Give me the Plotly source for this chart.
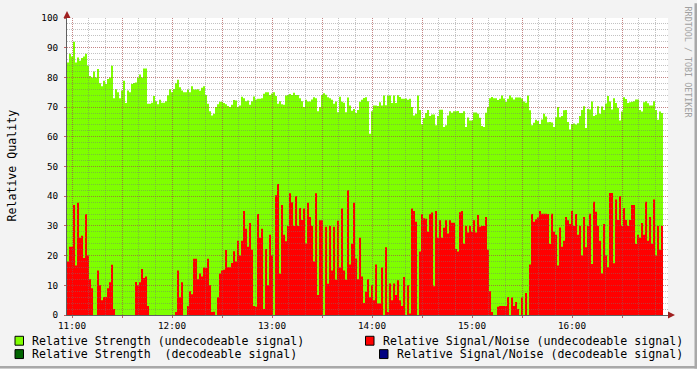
import pandas as pd
import plotly.graph_objects as go

# Relative Strength (undecodeable signal) - one value per 72 s sample
strength = [
    85, 88, 87, 92, 85, 86.7, 85.6, 86.5, 87, 88,
    84, 80.5, 80, 82, 80, 82.8, 78, 77, 78.9, 77.8,
    79.5, 80, 83.9, 73, 76, 75, 73, 75.6, 78.9, 71.4,
    75.6, 75, 77.8, 78.1, 78.3, 80, 81, 80, 83, 83,
    71.1, 71.1, 71.5, 73.7, 72, 71, 72.5, 71.5, 71.5, 72,
    74, 76, 75, 76.1, 78, 79.2, 76.7, 75.6, 75, 75,
    75.9, 75, 77, 75.9, 75.9, 76, 75.5, 76.5, 77, 74.1,
    71.1, 68.6, 67.2, 67.8, 70, 71, 71.8, 71.8, 71.4, 71,
    70.4, 70, 70.8, 72.4, 72.2, 70, 70.5, 73.5, 73, 72,
    72.2, 70.8, 72, 73.6, 72.6, 72.8, 72.8, 73, 74.5, 75,
    75, 74.1, 74.6, 75, 73.7, 71.1, 72, 71, 70.8, 73.9,
    74.1, 74.4, 74.1, 74.8, 74.1, 74.1, 73, 72, 70, 72.5,
    71.9, 71.9, 72.6, 73.3, 73, 68.6, 70, 74.1, 74.7, 74.2,
    73.3, 73, 72.5, 71.1, 71.9, 68.3, 73.5, 71.8, 71.5, 68.3,
    73.2, 70.5, 68.8, 69.4, 68, 69, 71.8, 72.5, 73.1, 73.3,
    72, 61, 68.6, 70.5, 70.5, 70.4, 71.6, 70.5, 73.9, 70.6,
    73.9, 73.9, 71.4, 73.9, 71.4, 74, 73.4, 72.8, 72.8, 72.9,
    72.5, 72.8, 70, 67.2, 67.8, 73.9, 69, 64.2, 66.3, 68,
    69, 67, 67.5, 67.5, 63.9, 67, 69.1, 69.1, 63.3, 63.9,
    67.2, 68.6, 68.1, 68.6, 68.6, 68.7, 68, 68, 68.6, 63.3,
    66.5, 65.5, 65.5, 68.2, 68.2, 67.8, 66.4, 63.6, 63.3, 68.1,
    70, 73, 73.4, 73, 73, 72.4, 72.8, 73.9, 72.9, 71.8,
    72.8, 73.9, 73.2, 72.6, 73.2, 73.2, 73.2, 72.9, 71.9, 71.5,
    73.9, 68.9, 63.9, 64.7, 65.7, 65.3, 64.3, 65.8, 67.8, 66.8,
    64.9, 65, 64.8, 63.3, 66.6, 70, 66.6, 67, 68.9, 69,
    65, 62.5, 64.3, 64.5, 64.1, 64.6, 67, 69, 70.3, 63,
    69.4, 69.2, 71.9, 67, 67.4, 70.3, 67.8, 70.2, 69, 71.2,
    73.7, 71.9, 69.2, 73, 71.4, 69.7, 65.5, 68.5, 73.3, 72.7,
    71.4, 71.6, 71.8, 72, 72.6, 72.6, 69, 68.5, 71.6, 72,
    71.3, 70.5, 70.5, 72, 69, 65.7, 68.5, 68,
]

# Relative Signal/Noise (undecodeable signal)
snr = [
    18, 23, 23, 37, 16.7, 37.8, 26, 26.7, 19.2, 33.9,
    20, 12, 9, 0, 0, 15, 10, 5, 6.1, 6.1,
    9, 11, 16.9, 2, 0, 0, 0, 0, 0, 0,
    0, 0, 0, 0, 11.1, 10, 11, 15.5, 12.5, 13,
    3, 0, 0, 0, 0, 0, 0, 0, 0, 0,
    0, 0, 0, 0, 1, 15, 6, 11, 0, 0,
    3, 8, 7, 18.9, 18.9, 12, 14, 13, 16, 15.9,
    18.9, 10, 1, 1.1, 0, 6, 14, 15, 15.2, 21.9,
    16.1, 16.1, 17.5, 21.5, 18, 25, 20, 25, 35, 29,
    23, 31, 22, 3, 2.8, 34, 26, 29, 2, 22.2,
    10, 27, 20, 0, 40.3, 44.1, 13.9, 37, 27, 24.8,
    30, 41, 38, 30, 40, 30, 36, 32, 35.9, 24.1,
    37.8, 33, 30, 18, 41, 6.7, 31.9, 31.9, 0, 29.7,
    10.5, 30, 15, 29.7, 11.9, 31.7, 16, 35.9, 15, 11.9,
    42, 17, 24, 37.8, 19, 12, 26, 13, 4, 7.8,
    12, 6, 10, 5, 17, 3.9, 3.9, 16, 0, 22.8,
    1, 10.6, 5, 10.6, 6.7, 11.7, 5, 3, 12.8, 0,
    10, 0.5, 35.9, 35, 31.4, 0, 21.4, 34, 32.6, 32.4,
    28, 34, 34.5, 9.7, 35, 26, 31.9, 26, 29.4, 31.9,
    27.4, 31.9, 31.1, 31.1, 22.2, 21.4, 34.6, 35, 24, 30,
    27.8, 30, 28, 31.9, 27.8, 33.7, 29.7, 30, 30, 33,
    22, 8, 1, 0, 0, 2.8, 3, 3, 3, 3,
    6.1, 0, 5.9, 3, 4.4, 2, 0, 5.9, 0, 7.4,
    0, 17, 34, 31.4, 32.2, 32.8, 35, 34.1, 34.1, 34.1,
    34, 23.9, 34.1, 28, 27, 16.7, 29.5, 23, 25, 33,
    31.9, 30.6, 35, 30, 34, 27, 30, 20, 33, 22.8,
    30, 34.1, 17.2, 38.1, 34.8, 30, 25, 14, 30.6, 20,
    16.1, 41.1, 41.1, 17.4, 38.9, 32, 40, 30, 36, 32,
    30, 32, 37, 37, 23.9, 27, 26, 31, 27, 38.1,
    25, 33, 24, 38.9, 20, 30, 22, 30,
]

start_time = "2024-01-01 10:57:00"
end_time = "2024-01-01 16:57:36"
step = "72s"
y_ticks = [0, 10, 20, 30, 40, 50, 60, 70, 80, 90, 100]

legend_items = [
    ("Relative Strength (undecodeable signal)", "#7FFF00"),
    ("Relative Strength  (decodeable signal)", "#006400"),
    ("Relative Signal/Noise (undecodeable signal)", "#FF0000"),
    ("Relative Signal/Noise (decodeable signal)", "#000080"),
]

times = pd.date_range(start_time, periods=len(strength) + 1, freq=step)
g_vals = strength + [strength[-1]]
r_vals = snr + [snr[-1]]

major = pd.date_range("2024-01-01 11:00", "2024-01-01 16:30", freq="30min")
major_text = [t.strftime("%H:%M") if t.minute == 0 else "" for t in major]

W, H = 697, 369
L, R, T, B = 67, 29, 15, 54
PW, PH = W - L - R, H - T - B


def px(x):
    return (x - L) / PW


def py(y):
    return (H - B - y) / PH


MONO = "DejaVu Sans Mono"

fig = go.Figure()
fig.add_trace(go.Scatter(
    x=times, y=g_vals, mode="lines", line=dict(width=0, shape="hv"),
    fill="tozeroy", fillcolor="#7FFF00", hoverinfo="skip", showlegend=False,
))
fig.add_trace(go.Scatter(
    x=times, y=r_vals, mode="lines", line=dict(width=0, shape="hv"),
    fill="tozeroy", fillcolor="#FF0000", hoverinfo="skip", showlegend=False,
))
# empty trace to create the grid-only subplot (drawn above data)
fig.add_trace(go.Scatter(x=[], y=[], xaxis="x2", yaxis="y2", showlegend=False))

minor_grid = "rgba(120,120,120,0.45)"
major_grid = "rgba(200,40,40,0.40)"

fig.update_layout(
    width=W, height=H,
    margin=dict(l=L, r=R, t=T, b=B, pad=0),
    paper_bgcolor="#F3F3F3", plot_bgcolor="rgba(0,0,0,0)",
    showlegend=False,
    font=dict(family=MONO, size=9.3, color="#000000"),
    xaxis=dict(
        type="date", range=[start_time, end_time], domain=[0, 1], anchor="y",
        tickmode="array", tickvals=list(major), ticktext=major_text,
        showgrid=False, zeroline=False,
        showline=True, linecolor="#606060", linewidth=1,
        ticks="outside", ticklen=2, tickcolor="#C06060",
        tickfont=dict(family=MONO, size=9.3),
    ),
    yaxis=dict(
        range=[0, 100], domain=[0, 1], anchor="x",
        tickmode="array", tickvals=y_ticks,
        showgrid=False, zeroline=False,
        showline=True, linecolor="#606060", linewidth=1,
        ticks="outside", ticklen=2, tickcolor="#C06060",
        ticklabelstandoff=4,
        tickfont=dict(family=MONO, size=9.3),
    ),
    xaxis2=dict(
        type="date", range=[start_time, end_time], domain=[0, 1], anchor="y2",
        tickmode="array", tickvals=list(major), showticklabels=False, ticks="",
        showgrid=True, gridcolor=major_grid, griddash="1px,1px", gridwidth=1,
        minor=dict(dtick=600000, tick0="2024-01-01 11:00", showgrid=True,
                   gridcolor=minor_grid, griddash="1px,1px", gridwidth=1, ticks=""),
        zeroline=False, showline=False,
    ),
    yaxis2=dict(
        range=[0, 100], domain=[0, 1], anchor="x2",
        tickmode="array", tickvals=y_ticks, showticklabels=False, ticks="",
        showgrid=True, gridcolor=major_grid, griddash="1px,1px", gridwidth=1,
        minor=dict(dtick=2, showgrid=True, gridcolor=minor_grid,
                   griddash="1px,1px", gridwidth=1, ticks=""),
        zeroline=False, showline=False,
    ),
)

annotations = [
    dict(text="Relative Quality", x=px(12), y=py(164), xref="paper", yref="paper",
         textangle=-90, showarrow=False, xanchor="center", yanchor="middle",
         font=dict(family=MONO, size=11.6, color="#000000")),
    dict(text="RRDTOOL / TOBI OETIKER", x=px(688), y=py(60), xref="paper", yref="paper",
         textangle=90, showarrow=False, xanchor="center", yanchor="middle",
         font=dict(family=MONO, size=8.4, color="#A0A0A0")),
]
shapes = [
    # white plotting area behind everything
    dict(type="rect", xref="paper", yref="paper", x0=0, x1=1, y0=0, y1=1,
         fillcolor="#FFFFFF", line=dict(width=0), layer="below"),
]

legend_pos = [(15, 341), (15, 354.5), (365.5, 341), (379.5, 354.5)]
for (label, color), (lx, ly) in zip(legend_items, legend_pos):
    shapes.append(dict(type="rect", xref="paper", yref="paper",
                       x0=px(lx), x1=px(lx + 8.5), y0=py(ly - 4.5), y1=py(ly + 4.5),
                       fillcolor=color, line=dict(color="#000000", width=1)))
    annotations.append(dict(text=label, x=px(lx + 15), y=py(ly), xref="paper", yref="paper",
                            showarrow=False, xanchor="left", yanchor="middle",
                            font=dict(family=MONO, size=11.6, color="#000000")))

# axis arrows
shapes.append(dict(type="path", xref="paper", yref="paper",
                   xsizemode="pixel", ysizemode="pixel", xanchor=0, yanchor=1,
                   path="M -3.5,0 L 3.5,0 L 0,7 Z",
                   fillcolor="#A02020", line=dict(width=0)))
shapes.append(dict(type="path", xref="paper", yref="paper",
                   xsizemode="pixel", ysizemode="pixel", xanchor=1, yanchor=0,
                   path="M 0,3.5 L 0,-3.5 L 7,0 Z",
                   fillcolor="#A02020", line=dict(width=0)))
# frame shading (bottom / right edges)
shapes.append(dict(type="rect", xref="paper", yref="paper",
                   x0=px(0), x1=px(W), y0=py(H), y1=py(H - 2.5),
                   fillcolor="#A8A8A8", line=dict(width=0), layer="above"))
shapes.append(dict(type="rect", xref="paper", yref="paper",
                   x0=px(W - 2.5), x1=px(W), y0=py(H), y1=py(0),
                   fillcolor="#A8A8A8", line=dict(width=0), layer="above"))

fig.update_layout(annotations=annotations, shapes=shapes)

fig.write_html("out.html")
